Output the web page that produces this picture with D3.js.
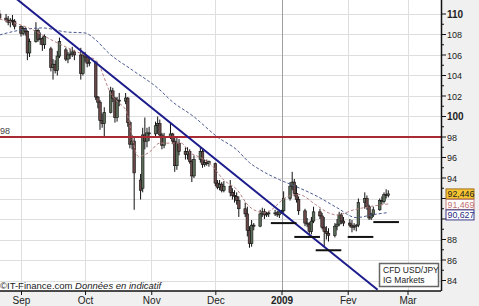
<!DOCTYPE html>
<html>
<head>
<meta charset="utf-8">
<script src="https://cdn.jsdelivr.net/npm/d3@7"></script>
<style>
body { margin: 0; background: #fff; }
text { font-family: "Liberation Sans", Arial, sans-serif; }
</style>
</head>
<body>
<script>
// daily USD/JPY candles
var dates = [
  "2008-08-22","2008-08-25","2008-08-26","2008-08-27","2008-08-28","2008-08-29",
  "2008-09-01","2008-09-02","2008-09-03","2008-09-04","2008-09-05","2008-09-08","2008-09-09","2008-09-10","2008-09-11","2008-09-12",
  "2008-09-15","2008-09-16","2008-09-17","2008-09-18","2008-09-19","2008-09-22","2008-09-23","2008-09-24","2008-09-25","2008-09-26",
  "2008-09-29","2008-09-30",
  "2008-10-01","2008-10-02","2008-10-03","2008-10-06","2008-10-07","2008-10-08","2008-10-09","2008-10-10","2008-10-13","2008-10-14",
  "2008-10-15","2008-10-16","2008-10-17","2008-10-20","2008-10-21","2008-10-22","2008-10-23","2008-10-24","2008-10-27","2008-10-28",
  "2008-10-29","2008-10-30","2008-10-31",
  "2008-11-03","2008-11-04","2008-11-05","2008-11-06","2008-11-07","2008-11-10","2008-11-11","2008-11-12","2008-11-13","2008-11-14",
  "2008-11-17","2008-11-18","2008-11-19","2008-11-20","2008-11-21","2008-11-24","2008-11-25","2008-11-26","2008-11-27","2008-11-28",
  "2008-12-01","2008-12-02","2008-12-03","2008-12-04","2008-12-05","2008-12-08","2008-12-09","2008-12-10","2008-12-11","2008-12-12",
  "2008-12-15","2008-12-16","2008-12-17","2008-12-18","2008-12-19","2008-12-22","2008-12-23","2008-12-24","2008-12-25","2008-12-26",
  "2008-12-29","2008-12-30","2008-12-31",
  "2009-01-01","2009-01-02","2009-01-05","2009-01-06","2009-01-07","2009-01-08","2009-01-09","2009-01-12","2009-01-13","2009-01-14",
  "2009-01-15","2009-01-16","2009-01-19","2009-01-20","2009-01-21","2009-01-22","2009-01-23","2009-01-26","2009-01-27","2009-01-28",
  "2009-01-29","2009-01-30",
  "2009-02-02","2009-02-03","2009-02-04","2009-02-05","2009-02-06","2009-02-09","2009-02-10","2009-02-11","2009-02-12","2009-02-13",
  "2009-02-16","2009-02-17","2009-02-18","2009-02-19","2009-02-20"
];
var opens = [
  110.0,109.6,109.4,109.2,109.4,109.3,
  108.8,108.1,108.6,108.3,106.2,107.3,108.4,107.5,107.6,107.0,
  106.6,104.8,105.1,104.5,105.9,106.5,105.6,106.0,106.1,106.3,
  106.0,104.2,
  106.0,105.8,105.2,105.3,101.9,101.4,99.6,99.3,100.4,102.5,
  101.8,99.9,101.6,101.5,101.8,99.4,97.3,97.6,93.8,93.0,
  98.2,97.6,98.4,
  98.3,99.1,99.3,98.2,97.2,98.0,98.3,97.6,95.2,97.4,
  96.6,96.3,96.6,95.6,94.2,95.8,96.6,95.3,95.5,95.4,
  95.4,93.5,93.1,93.4,92.8,93.2,92.6,92.3,92.2,91.8,
  91.0,90.5,88.9,87.6,89.4,89.3,90.5,90.7,90.4,90.5,
  90.6,90.6,90.4,
  90.7,90.8,92.0,93.2,93.6,92.5,91.9,90.8,89.6,89.5,
  88.8,89.8,90.7,90.3,89.2,88.8,88.6,88.4,89.3,89.5,
  90.4,89.8,
  89.6,89.4,89.2,89.3,89.4,91.6,92.0,91.2,90.1,90.4,
  90.9,91.8,91.7,92.4,92.3
];
var highs = [
  110.4,110.0,109.8,109.6,109.9,109.5,
  108.9,108.8,108.7,108.4,107.6,109.2,108.6,108.2,107.8,108.0,
  106.8,105.6,105.5,106.4,107.7,106.7,106.3,106.6,106.8,106.5,
  106.7,106.2,
  106.3,106.0,105.8,105.4,102.0,101.6,100.3,100.9,102.9,102.8,
  101.9,101.9,102.3,102.3,101.9,99.6,98.2,97.9,94.4,98.9,
  99.9,98.9,99.0,
  99.5,100.0,99.7,98.4,98.4,99.4,98.4,97.9,97.9,97.8,
  97.0,97.0,96.8,95.8,96.2,97.0,96.9,95.8,95.8,95.7,
  95.5,93.8,93.8,93.6,93.7,93.8,93.0,92.8,92.6,92.2,
  91.6,91.2,89.3,89.9,89.6,90.9,91.1,91.0,90.7,90.8,
  90.9,90.8,90.9,
  90.9,92.7,93.6,94.6,93.9,93.3,92.2,91.0,90.1,89.7,
  90.2,91.2,91.0,90.6,90.2,89.3,89.1,89.6,90.0,90.7,
  90.6,90.2,
  90.0,89.9,89.6,89.5,92.0,92.6,92.3,91.4,90.6,91.2,
  92.0,92.2,92.6,92.9,92.8
];
var lows = [
  109.4,109.2,108.9,108.7,108.9,108.5,
  107.8,107.9,107.9,105.5,105.8,107.2,107.3,107.0,106.4,106.6,
  104.4,103.6,104.2,104.0,105.7,105.4,105.2,105.6,105.8,105.5,
  103.6,104.0,
  105.3,104.8,104.9,101.6,100.8,98.7,98.9,98.0,100.3,101.4,
  99.4,99.5,101.0,101.2,99.0,96.9,96.8,90.9,91.9,92.6,
  96.8,97.0,97.6,
  97.9,98.3,98.0,96.8,96.9,97.8,97.3,94.6,94.8,96.2,
  95.8,95.8,95.4,93.6,94.0,95.5,95.0,95.1,95.2,95.1,
  93.2,92.9,92.8,92.6,92.6,92.2,91.9,91.6,91.4,90.2,
  90.2,88.3,87.2,87.3,88.9,89.2,90.2,90.0,90.2,90.2,
  90.3,90.2,90.1,
  90.5,90.6,91.8,92.8,92.2,91.6,90.4,89.3,89.2,88.5,
  88.5,89.6,90.0,89.0,87.3,88.0,87.8,88.2,88.9,89.3,
  89.5,89.3,
  89.2,88.7,88.9,88.8,89.2,91.0,90.9,89.9,89.9,90.2,
  90.8,91.4,91.5,92.0,92.1
];
var closes = [
  109.6,109.4,109.2,109.4,109.3,108.8,
  108.1,108.6,108.3,106.2,107.3,108.4,107.5,107.6,107.0,107.8,
  104.8,105.1,104.5,105.9,107.3,105.6,106.0,106.1,106.3,106.0,
  104.2,106.0,
  105.8,105.2,105.3,101.9,101.4,99.6,99.3,100.4,102.5,101.8,
  99.9,101.6,101.5,101.8,99.4,97.3,97.6,94.5,92.8,98.2,
  97.6,98.4,98.3,
  99.1,99.3,98.2,97.2,98.0,98.3,97.6,95.2,97.4,96.6,
  96.3,96.6,95.6,94.2,95.8,96.6,95.3,95.5,95.4,95.6,
  93.5,93.1,93.4,92.8,93.2,92.6,92.3,92.2,91.8,91.0,
  90.5,88.9,87.6,89.4,89.3,90.5,90.7,90.4,90.5,90.6,
  90.6,90.4,90.7,
  90.8,92.0,93.2,93.6,92.5,91.9,90.8,89.6,89.5,88.8,
  89.8,90.7,90.3,89.2,88.8,88.6,88.4,89.3,89.5,90.4,
  89.8,89.6,
  89.4,89.2,89.3,89.4,91.6,92.0,91.2,90.1,90.4,90.9,
  91.8,91.7,92.4,92.3,92.45
];

// slow moving average (blue dashed)
var slowDates = ["2008-08-22","2008-09-01","2008-09-11","2008-09-22","2008-10-01","2008-10-06","2008-10-12","2008-10-23",
  "2008-11-05","2008-11-10","2008-11-21","2008-12-02","2008-12-11","2008-12-17","2008-12-22","2008-12-31",
  "2009-01-08","2009-01-18","2009-01-27","2009-02-05","2009-02-13","2009-02-20"];
var slowValues = [107.96,108.44,108.64,108.25,108.15,107.47,106.2,104.55,
  102.6,101.6,99.97,98.0,96.76,95.5,94.8,93.84,
  93.15,92.18,91.1,90.14,90.43,90.63];

// fast moving average (pink dashed)
var fastDates = ["2008-08-22","2008-09-05","2008-09-15","2008-09-25","2008-10-03","2008-10-06","2008-10-14","2008-10-17",
  "2008-10-20","2008-10-26","2008-10-31","2008-11-05","2008-11-15","2008-11-19","2008-11-24","2008-11-29",
  "2008-12-05","2008-12-11","2008-12-17","2008-12-24","2009-01-04","2009-01-09","2009-01-17","2009-01-23",
  "2009-01-27","2009-02-04","2009-02-11","2009-02-20"];
var fastValues = [109.5,108.6,107.5,106.5,105.8,105.5,101.9,101.3,
  100.65,96.1,96.5,97.4,97.4,96.5,96.0,95.3,
  93.8,92.9,91.2,90.6,92.2,92.4,91.4,90.6,
  90.4,90.9,91.2,91.47];

// drawn annotations
var trendDates = ["2008-08-22","2009-02-15"];
var trendValues = [112.8,83.1];
var supportFrom = ["2008-12-27","2009-01-07","2009-01-17","2009-02-01","2009-02-13"];
var supportTo   = ["2009-01-08","2009-01-19","2009-01-29","2009-02-13","2009-02-25"];
var supportLevels = [89.6,88.25,86.95,88.25,89.7];
var resistanceLevel = 98;

var yTicks = [84,86,88,90,92,94,96,98,100,102,104,106,108,110];
var hiddenTicks = [90,92];   // covered by the last-value boxes
var boldTicks = [100,110];
var monthTicks = ["2008-09-01","2008-10-01","2008-11-01","2008-12-01","2009-01-01","2009-02-01","2009-03-01"];
var monthLabels = ["Sep","Oct","Nov","Dec","2009","Fev","Mar"];

var lastValues = [92.446, 91.469, 90.627];
var lastLabels = ["92,446","91,469","90,627"];

var parseDate = d3.timeParse("%Y-%m-%d");
var width = 479, height = 306;
var plotRight = 441, plotBottom = 291;

var svg = d3.select("body").append("svg").attr("width", width).attr("height", height);
svg.append("rect").attr("width", width).attr("height", height).attr("fill", "#f0f0f0");
svg.append("rect").attr("width", plotRight).attr("height", plotBottom).attr("fill", "#ffffff");

svg.append("clipPath").attr("id", "plot")
  .append("rect").attr("width", plotRight).attr("height", plotBottom);

var x = d3.scaleTime()
  .domain([parseDate(monthTicks[0]), parseDate(monthTicks[monthTicks.length-1])])
  .range([21, 407.5]);
var y = d3.scaleLinear().domain([84, 110]).range([280.5, 14]);

var plot = svg.append("g").attr("clip-path", "url(#plot)");

// grid
plot.selectAll(".hgrid").data(yTicks).enter().append("line")
  .attr("x1", 0).attr("x2", plotRight)
  .attr("y1", function(d){ return Math.round(y(d)) + 0.5; })
  .attr("y2", function(d){ return Math.round(y(d)) + 0.5; })
  .attr("stroke", "#dedede").attr("stroke-width", 1);
plot.selectAll(".vgrid").data(monthTicks).enter().append("line")
  .attr("x1", function(d){ return Math.round(x(parseDate(d))) + 0.5; })
  .attr("x2", function(d){ return Math.round(x(parseDate(d))) + 0.5; })
  .attr("y1", 0).attr("y2", plotBottom)
  .attr("stroke", function(d, i){ return monthLabels[i] == "2009" ? "#a0a0a0" : "#dedede"; })
  .attr("stroke-width", 1);

// candles
var candles = dates.map(function(d, i){
  return {date: parseDate(d), o: opens[i], h: highs[i], l: lows[i], c: closes[i]};
});
var candle = plot.selectAll(".candle").data(candles).enter().append("g");
candle.append("line")
  .attr("x1", function(d){ return x(d.date); })
  .attr("x2", function(d){ return x(d.date); })
  .attr("y1", function(d){ return y(d.h); })
  .attr("y2", function(d){ return y(d.l); })
  .attr("stroke", "#111").attr("stroke-width", 1);
candle.append("rect")
  .attr("x", function(d){ return x(d.date) - 1.3; })
  .attr("width", 2.6)
  .attr("y", function(d){ return y(Math.max(d.o, d.c)); })
  .attr("height", function(d){ return Math.max(1, Math.abs(y(d.o) - y(d.c))); })
  .attr("fill", function(d){ return d.c >= d.o ? "#5c6e5a" : "#6a4848"; })
  .attr("stroke", "#111").attr("stroke-width", 0.6);

// moving averages
var line = d3.line()
  .x(function(d){ return x(parseDate(d[0])); })
  .y(function(d){ return y(d[1]); })
  .curve(d3.curveMonotoneX);
plot.append("path")
  .datum(slowDates.map(function(d, i){ return [d, slowValues[i]]; }))
  .attr("d", line).attr("fill", "none")
  .attr("stroke", "#4a5a90").attr("stroke-width", 1).attr("stroke-dasharray", "3,2");
plot.append("path")
  .datum(fastDates.map(function(d, i){ return [d, fastValues[i]]; }))
  .attr("d", line).attr("fill", "none")
  .attr("stroke", "#b88080").attr("stroke-width", 1).attr("stroke-dasharray", "3,2");

// 98 resistance
plot.append("line")
  .attr("x1", 0).attr("x2", plotRight)
  .attr("y1", y(resistanceLevel)).attr("y2", y(resistanceLevel))
  .attr("stroke", "#a82a32").attr("stroke-width", 2);
svg.append("text").attr("x", 0).attr("y", y(resistanceLevel) - 3)
  .attr("font-size", 9).attr("fill", "#444").text(resistanceLevel);

// trend line
plot.append("line")
  .attr("x1", x(parseDate(trendDates[0]))).attr("y1", y(trendValues[0]))
  .attr("x2", x(parseDate(trendDates[1]))).attr("y2", y(trendValues[1]))
  .attr("stroke", "#1c1c8c").attr("stroke-width", 2);

// supports
plot.selectAll(".support").data(supportLevels).enter().append("line")
  .attr("x1", function(d, i){ return x(parseDate(supportFrom[i])); })
  .attr("x2", function(d, i){ return x(parseDate(supportTo[i])); })
  .attr("y1", function(d){ return y(d); })
  .attr("y2", function(d){ return y(d); })
  .attr("stroke", "#111").attr("stroke-width", 2);

// right axis
svg.append("line").attr("x1", plotRight + 0.5).attr("x2", plotRight + 0.5)
  .attr("y1", 0).attr("y2", plotBottom).attr("stroke", "#111").attr("stroke-width", 1.5);
var minorTicks = d3.range(84, 111);
svg.selectAll(".minor").data(minorTicks).enter().append("line")
  .attr("x1", plotRight).attr("x2", function(d){ return d % 2 == 0 ? plotRight + 5 : plotRight + 3; })
  .attr("y1", function(d){ return y(d); }).attr("y2", function(d){ return y(d); })
  .attr("stroke", "#111").attr("stroke-width", 1);
svg.selectAll(".ylab").data(yTicks.filter(function(d){ return hiddenTicks.indexOf(d) < 0; }))
  .enter().append("text")
  .attr("x", plotRight + 6).attr("y", function(d){ return y(d) + 3.5; })
  .attr("font-size", function(d){ return boldTicks.indexOf(d) >= 0 ? 10 : 9; })
  .attr("font-weight", function(d){ return boldTicks.indexOf(d) >= 0 ? "bold" : "normal"; })
  .attr("fill", "#222")
  .text(function(d){ return d; });

// bottom axis
svg.append("line").attr("x1", 0).attr("x2", plotRight)
  .attr("y1", plotBottom).attr("y2", plotBottom).attr("stroke", "#111").attr("stroke-width", 1.5);
var xAxis = d3.axisBottom(x)
  .tickValues(monthTicks.map(parseDate))
  .tickSize(4)
  .tickFormat(function(d, i){ return monthLabels[i]; });
var xg = svg.append("g").attr("transform", "translate(0," + plotBottom + ")").call(xAxis);
xg.select(".domain").remove();
xg.selectAll("line").attr("stroke", "#111");
xg.selectAll("text")
  .attr("font-family", "Liberation Sans, Arial, sans-serif")
  .attr("font-size", 10).attr("fill", "#222").attr("dy", "0.55em")
  .attr("font-weight", function(d, i){ return monthLabels[i] == "2009" ? "bold" : "normal"; });

// footer
var foot = svg.append("text").attr("x", 0).attr("y", 289).attr("font-size", 9.5).attr("fill", "#222");
foot.append("tspan").text("\u00a9IT-Finance.com  ");
foot.append("tspan").attr("font-style", "italic").text("Donn\u00e9es en indicatif");

// last value boxes, stacked downward from the top value so they do not collide
var boxFill = ["#f7c531", "#ffffff", "#ffffff"];
var boxStroke = ["#a07020", "#c08080", "#3a3a8a"];
var boxText = ["#222", "#c07070", "#2a2a80"];
var boxH = 10, boxGap = 10.5;
var boxY = [];
lastValues.forEach(function(v, i){
  var cy = y(v);
  if (i > 0) cy = Math.max(cy, boxY[i-1] + boxGap);
  boxY.push(cy);
});
var lastG = svg.selectAll(".last").data(lastValues).enter().append("g");
lastG.append("rect")
  .attr("x", 446).attr("y", function(d, i){ return boxY[i] - boxH/2; })
  .attr("width", 28).attr("height", boxH)
  .attr("fill", function(d, i){ return boxFill[i]; })
  .attr("stroke", function(d, i){ return boxStroke[i]; }).attr("stroke-width", 1);
lastG.append("text")
  .attr("x", 447.5).attr("y", function(d, i){ return boxY[i] + 3.2; })
  .attr("font-size", 8.8)
  .attr("fill", function(d, i){ return boxText[i]; })
  .text(function(d, i){ return lastLabels[i]; });

// instrument box
var legend = svg.append("g");
legend.append("rect").attr("x", 379.5).attr("y", 263.5).attr("width", 59).attr("height", 23)
  .attr("fill", "#fff").attr("stroke", "#666").attr("stroke-width", 1.5);
legend.append("text").attr("x", 383).attr("y", 273).attr("font-size", 8.5).attr("fill", "#222").text("CFD USD/JPY");
legend.append("text").attr("x", 383).attr("y", 283).attr("font-size", 8.5).attr("fill", "#222").text("IG Markets");
</script>
</body>
</html>
